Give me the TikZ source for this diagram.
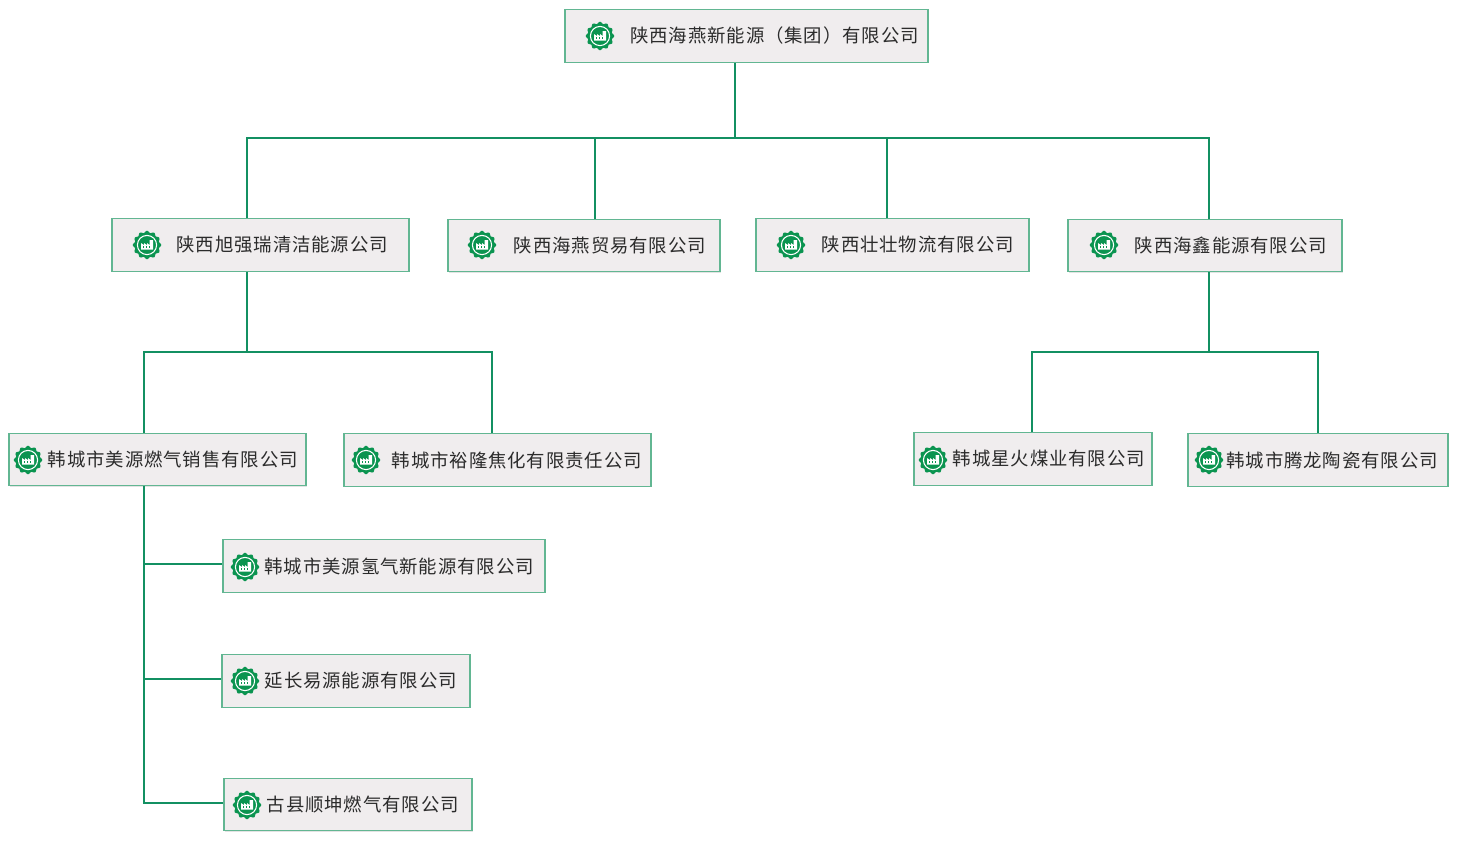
\documentclass[tikz,border=0pt]{standalone}
\usepackage{fontspec}
\usepackage{tikz}
\usetikzlibrary{shadows}
\newfontfamily\cjk[LetterSpace=5]{Noto Sans CJK SC}
\definecolor{sealgreen}{HTML}{0B9450}
\definecolor{linkgreen}{HTML}{139062}
\definecolor{boxedge}{HTML}{62B692}
\definecolor{boxfill}{HTML}{F0EDEE}
\definecolor{boxtext}{HTML}{2B2B2B}
\tikzset{
	orgbox/.style={draw=boxedge, line width=.8pt, fill=boxfill, text=boxtext, font=\cjk\fontsize{13.8}{16}\selectfont,
		align=right, inner xsep=0pt, inner ysep=0pt, minimum height=39.5pt,
		drop shadow={opacity=.22, shadow xshift=.6pt, shadow yshift=-.8pt}},
	link/.style={draw=linkgreen, line width=2.1pt},
	seal/.pic={
		\fill[sealgreen] plot[smooth cycle, samples=72, domain=0:355] ({(13.3+1*cos(12*\x))*cos(\x)}, {(13.3+1*cos(12*\x))*sin(\x)});
		\draw[white, line width=.8pt] (0,0) circle (9.6);
		\fill[white] (-6,4.5) -- (-6,-2) -- (-3,0) -- (-3,-2) -- (0,0) -- (0,-2) -- (2.5,0) -- (2.5,-5) -- (6,-5) -- (6,4.5) -- cycle;
		\foreach \winx in {-3.8,-.8,2.2}
			\fill[sealgreen] (\winx,1.4) rectangle +(1.2,1.4);
	}
}
\begin{document}
\begin{tikzpicture}[x=.75pt,y=-.75pt]
\useasboundingbox (0,0) rectangle (1457,840);
\fill[white] (0,0) rectangle (1457,840);
% junctions
\coordinate (topbus) at (735,138);
\coordinate (busa) at (247,138);
\coordinate (busb) at (595,138);
\coordinate (busc) at (887,138);
\coordinate (busd) at (1209,138);
\coordinate (leftbus) at (247,352);
\coordinate (lefta) at (144,352);
\coordinate (leftb) at (492,352);
\coordinate (rightbus) at (1209,352);
\coordinate (righta) at (1032,352);
\coordinate (rightb) at (1318,352);
\coordinate (stema) at (144,564);
\coordinate (stemb) at (144,679);
\coordinate (stemc) at (144,803);
% boxes
\path (746.5,36) node[orgbox, minimum width=272.25pt, text width=258.75pt] (group) {陕西海燕新能源（集团）有限公司}
		(260.5,245) node[orgbox, minimum width=222.75pt, text width=191.25pt] (xuqiang) {陕西旭强瑞清洁能源公司}
		(584,245.5) node[orgbox, minimum width=204pt, text width=183pt] (haiyan) {陕西海燕贸易有限公司}
		(892.5,245) node[orgbox, minimum width=204.75pt, text width=182.25pt] (zhuang) {陕西壮壮物流有限公司}
		(1205,245.5) node[orgbox, minimum width=205.5pt, text width=183pt] (haixin) {陕西海鑫能源有限公司}
		(157.5,459.5) node[orgbox, minimum width=222.75pt, text width=210.75pt] (meiyuan) {韩城市美源燃气销售有限公司}
		(497.5,460) node[orgbox, minimum width=230.25pt, text width=216.75pt] (yulong) {韩城市裕隆焦化有限责任公司}
		(1033,459) node[orgbox, minimum width=178.5pt, text width=168pt] (xinghuo) {韩城星火煤业有限公司}
		(1318,460) node[orgbox, minimum width=195pt, text width=180pt] (tenglong) {韩城市腾龙陶瓷有限公司}
		(384,566) node[orgbox, minimum width=241.5pt, text width=225pt] (qingqi) {韩城市美源氢气新能源有限公司}
		(346,681) node[orgbox, minimum width=186pt, text width=166.5pt] (yanchang) {延长易源能源有限公司}
		(348,804.5) node[orgbox, minimum width=186pt, text width=166.5pt] (guxian) {古县顺坤燃气有限公司}
					;
% seals
\path (600,36) pic {seal}
		(147,245) pic {seal}
		(482,245) pic {seal}
		(791,245) pic {seal}
		(1104,245) pic {seal}
		(28,460) pic {seal}
		(366,460) pic {seal}
		(933,460) pic {seal}
		(1209,460) pic {seal}
		(245,567) pic {seal}
		(245,681) pic {seal}
		(247,805) pic {seal}
					;
% connectors
\draw[link] (group.south -| topbus) -- (topbus);
\draw[link] (xuqiang.north -| busa) -- (busa) -- (busd) -- (haixin.north -| busd);
\draw[link] (busb) -- (haiyan.north -| busb);
\draw[link] (busc) -- (zhuang.north -| busc);
\draw[link] (xuqiang.south -| leftbus) -- (leftbus);
\draw[link] (meiyuan.north -| lefta) -- (lefta) -- (leftb) -- (yulong.north -| leftb);
\draw[link] (haixin.south -| rightbus) -- (rightbus);
\draw[link] (xinghuo.north -| righta) -- (righta) -- (rightb) -- (tenglong.north -| rightb);
\draw[link] (meiyuan.south -| stema) -- (stemc) -- (stemc -| guxian.west);
\draw[link] (stema) -- (stema -| qingqi.west);
\draw[link] (stemb) -- (stemb -| yanchang.west);
\end{tikzpicture}
\end{document}
